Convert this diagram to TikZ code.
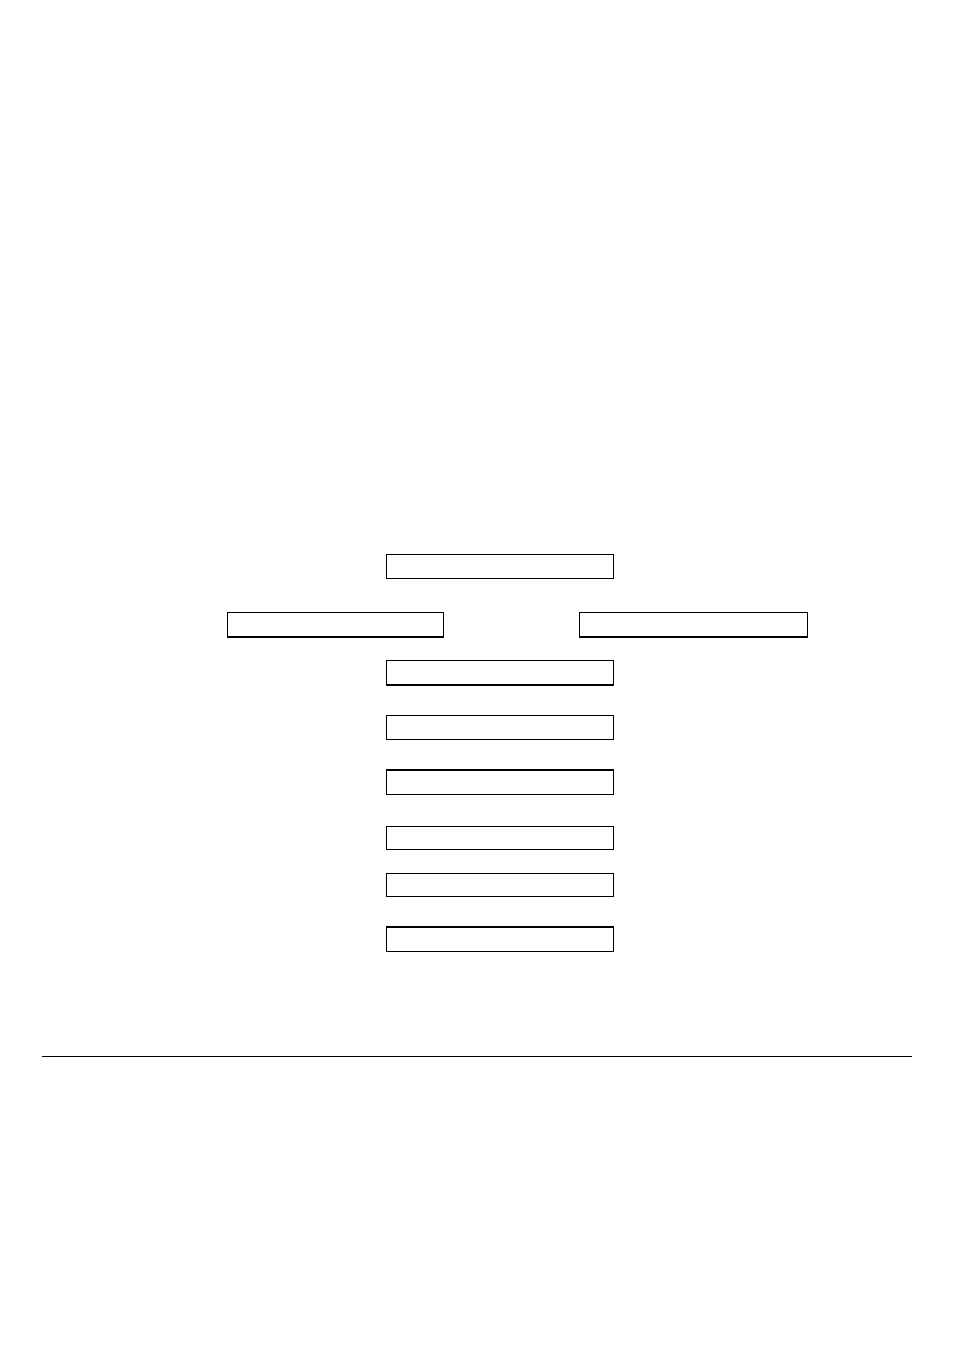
\documentclass[tikz,border=0pt]{standalone}
\begin{document}
\begin{tikzpicture}[x=1pt,y=-1pt,
  emptybox/.style={draw=black,line width=1pt,fill=white,inner sep=0pt,minimum height=24pt,minimum width=227pt},
  thickedge/.style={line width=2pt}]
\useasboundingbox[fill=white] (0,0) rectangle (954,1350);
\node[emptybox] (b1) at (499.5,566) {};
\node[emptybox,minimum width=216pt] (b2) at (335,624) {};
\node[emptybox,minimum width=228pt] (b3) at (693,624) {};
\node[emptybox] (b4) at (499.5,672) {};
\node[emptybox] (b5) at (499.5,727) {};
\node[emptybox] (b6) at (499.5,782) {};
\node[emptybox,minimum height=23pt] (b7) at (499.5,837.5) {};
\node[emptybox,minimum height=23pt] (b8) at (499.5,884.5) {};
\node[emptybox] (b9) at (499.5,939) {};
\draw[thickedge] (b2.south west) -- (b2.south east);
\draw[thickedge] (b3.south west) -- (b3.south east);
\draw[thickedge] (b4.south west) -- (b4.south east);
\draw[thickedge] (b6.north west) -- (b6.north east);
\draw[thickedge] (b9.north west) -- (b9.north east);
\coordinate (l1) at (42,1056);
\coordinate (l2) at (912,1056);
\draw[line width=1pt] (l1) -- (l2);
\end{tikzpicture}
\end{document}
